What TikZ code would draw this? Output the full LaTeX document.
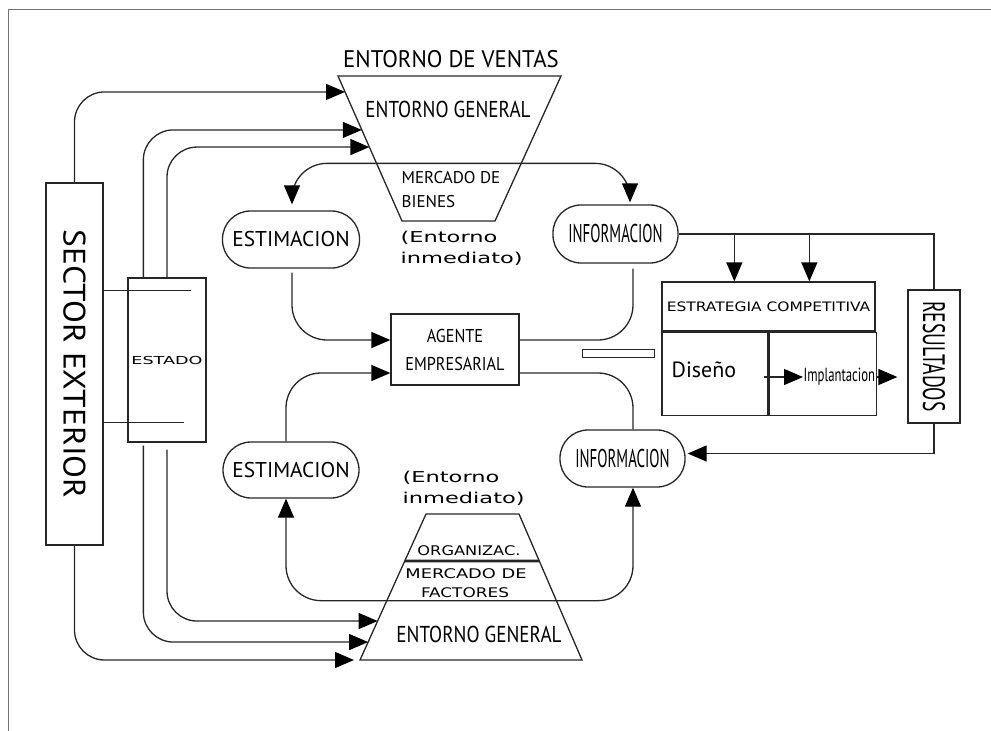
\documentclass[tikz,border=0pt]{standalone}
\usepackage{fontspec}
\setmainfont{PT Sans}
\newfontfamily\wfont{DejaVu Sans}
\usetikzlibrary{arrows.meta,calc}
\newcommand{\sx}[2]{\scalebox{#1}[1]{#2}}
\newcommand{\fs}[1]{\fontsize{#1pt}{#1pt}\selectfont}

\begin{document}
\begin{tikzpicture}[x=1pt,y=-1pt,line width=1.3pt,color=black!85,
    every node/.style={text=black},
    boxn/.style={draw,inner sep=0pt},
    pill/.style={draw,inner sep=0pt,rounded corners=28pt},
    txt/.style={inner sep=0pt},
    tip/.tip={Triangle[length=19pt,width=16pt,color=black]},
    arr/.style={-tip},
    darr/.style={tip-tip}]
            \useasboundingbox (0,0) rectangle (991,731);
            \draw[black!55,line width=1pt] (8,731) -- (8,9) -- (991,9);

            \coordinate (vtl) at (338,76);
            \coordinate (vtr) at (561,76);
            \coordinate (vbr) at (495,221);
            \coordinate (vbl) at (402,221);
            \coordinate (ftl) at (426,514);
            \coordinate (ftr) at (519,514);
            \coordinate (fbr) at (582,660);
            \coordinate (fbl) at (360,660);
            \coordinate (h1) at (300,561);
            \coordinate (h2) at (600,561);
            \draw (vtl) -- (vtr) -- (vbr) -- (vbl) -- cycle;
            \draw (ftl) -- (ftr) -- (fbr) -- (fbl) -- cycle;
            \draw[line width=2.6pt] (intersection of ftl--fbl and h1--h2) -- (intersection of ftr--fbr and h1--h2);

            \node[txt,anchor=base] (ventas) at (451,67) {\fs{24}\sx{.95}{ENTORNO DE VENTAS}};
            \node[txt,anchor=base] (generalA) at (448,117) {\fs{23}\sx{.83}{ENTORNO GENERAL}};
            \node[txt,anchor=base west] (bienesA) at (401,183) {\fs{17}MERCADO DE};
            \node[txt,anchor=base west] (bienesB) at (401,207) {\fs{17}BIENES};
            \node[txt,anchor=base west] (inmedA) at (400,242) {\wfont\fs{15}\sx{1.5}{(Entorno}};
            \node[txt,anchor=base west] (inmedB) at (400,263) {\wfont\fs{15}\sx{1.5}{inmediato)}};
            \node[txt,anchor=base west] (inmedC) at (402,482) {\wfont\fs{15}\sx{1.5}{(Entorno}};
            \node[txt,anchor=base west] (inmedD) at (402,503) {\wfont\fs{15}\sx{1.5}{inmediato)}};
            \node[txt,anchor=base] (organiz) at (469,555) {\wfont\fs{13.3}\sx{1.22}{ORGANIZAC.}};
            \node[txt,anchor=base] (factA) at (466,578) {\wfont\fs{13.3}\sx{1.34}{MERCADO DE}};
            \node[txt,anchor=base] (factB) at (465,597) {\wfont\fs{13.3}\sx{1.27}{FACTORES}};
            \node[txt,anchor=base] (generalB) at (479,642) {\fs{23}\sx{.83}{ENTORNO GENERAL}};

            \node[boxn,minimum width=57pt,minimum height=362pt] (sector) at (74.5,364) {\rotatebox{-90}{\fs{31}\sx{1.08}{SECTOR EXTERIOR}}};
            \node[boxn,minimum width=78pt,minimum height=164pt] (estado) at (167,360) {\wfont\fs{11}\sx{1.6}{ESTADO}};
            \node[pill,minimum width=137pt,minimum height=57pt] (estimA) at (291,239.5) {\fs{21.4}ESTIMACION};
            \node[pill,minimum width=125pt,minimum height=58pt] (infoA) at (615.5,234) {\fs{25.7}\sx{.58}{INFORMACION}};
            \node[boxn,minimum width=128pt,minimum height=71pt,align=center,
                  font=\fontsize{18.6pt}{28pt}\selectfont] (agente) at (455,349.5) {\sx{.87}{AGENTE}\\\sx{.87}{EMPRESARIAL}};
            \node[pill,minimum width=136pt,minimum height=56pt] (estimB) at (291,470) {\fs{21.4}ESTIMACION};
            \node[pill,minimum width=125pt,minimum height=57pt] (infoB) at (622.5,458.5) {\fs{25.7}\sx{.58}{INFORMACION}};
            \node[boxn,line width=1pt,minimum width=72pt,minimum height=8pt] (bar) at (618,353) {};
            \node[boxn,minimum width=213pt,minimum height=49pt] (estrat) at (768.5,306.5) {\wfont\fs{13}\sx{1.19}{ESTRATEGIA COMPETITIVA}};
            \node[boxn,minimum width=106pt,minimum height=83pt,anchor=north west] (diseno) at (estrat.south west) {};
            \node[boxn,minimum width=107pt,minimum height=83pt,anchor=north west] (implbox) at (diseno.north east) {};
            \node[txt,anchor=base west] (disenoT) at (671,377) {\fs{22}Diseño};
            \node[txt,anchor=west] (impl) at (803,377) {\fs{19}\sx{.67}{Implantacion}};
            \node[boxn,minimum width=52pt,minimum height=133pt] (result) at (934,356.5) {\rotatebox{-90}{\fs{31}\sx{.63}{RESULTADOS}}};

            \coordinate (e1) at ($(vtl)!0.110!(vbl)$);
            \coordinate (e2) at ($(vtl)!0.372!(vbl)$);
            \coordinate (e3) at ($(vtl)!0.490!(vbl)$);
            \coordinate (f1) at ($(ftl)!0.733!(fbl)$);
            \coordinate (f2) at ($(ftl)!0.877!(fbl)$);
            \coordinate (d1) at ($(estrat.north west)+(73,0)$);
            \coordinate (d2) at ($(estrat.north west)+(148,0)$);
            \coordinate (rin) at ($(result.west)+(-10,0)$);

            \draw[arr,rounded corners=30pt] (sector.north) |- (e1);
            \draw[arr,rounded corners=30pt] ($(estado.north west)+(16,0)$) |- (e2);
            \draw[arr,rounded corners=30pt] (estado.north) |- (e3);
            \draw[arr,rounded corners=30pt] ($(estado.south west)+(16,3)$) |- (f2);
            \draw[arr,rounded corners=30pt] ($(estado.south)+(0,7)$) |- (f1);
            \draw[arr,rounded corners=30pt] (sector.south) |- ($(fbl)+(-6,0)$);
            \draw[line width=1pt] ($(sector.north east)+(0,108)$) -- ++(87,0);
            \draw[line width=1pt] ($(sector.north east)+(0,240)$) -- ++(80,0);

            \draw[darr,rounded corners=35pt] ($(estimA.north)+(1,-6)$) -- ++(0,-41) -| ($(infoA.north)+(14.5,-2)$);
            \draw[arr,rounded corners=35pt] ($(estimA.south)+(1,4)$) |- ($(agente.west)+(0,-9.5)$);
            \draw[arr,rounded corners=35pt] ($(estimB.north)+(-5,0)$) |- ($(agente.west)+(0,23.5)$);
            \draw[rounded corners=35pt] ($(agente.east)+(0,-9.5)$) -| ($(infoA.south)+(17.5,5)$);
            \draw[rounded corners=35pt] ($(agente.east)+(0,23.5)$) -| ($(infoB.north)+(10.5,0)$);
            \draw[darr,rounded corners=35pt] ($(estimB.south)+(-5,0)$) -- ++(0,102) -| ($(infoB.south)+(10.5,0)$);

            \draw (infoA.east) -| (result.north);
            \draw[arr] (infoA.east -| d1) -- (d1);
            \draw[arr] (infoA.east -| d2) -- (d2);
            \draw[arr] ($(impl.west)+(-39,0)$) -- (impl.west);
            \draw[arr] (impl.east) -- (impl.east -| rin);
            \draw[arr] (result.south) |- ($(infoB.east)+(2,-5)$);
\end{tikzpicture}
\end{document}
